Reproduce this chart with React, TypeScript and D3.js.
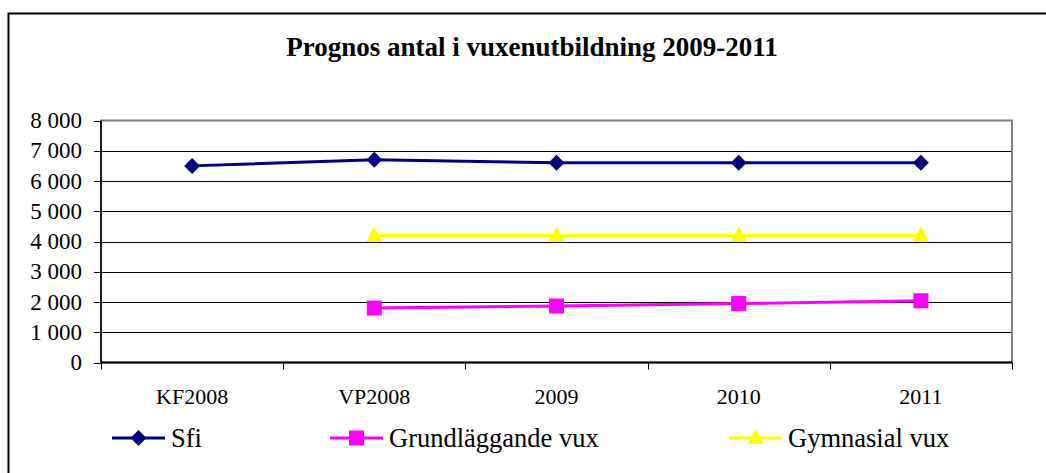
import { useEffect, useRef } from 'react'
import * as d3 from 'd3'

const categories = ['KF2008', 'VP2008', '2009', '2010', '2011']
const sfi = [6500, 6700, 6600, 6600, 6600]
const grundlaggande = [null, 1800, 1870, 1950, 2040]
const gymnasial = [null, 4200, 4200, 4200, 4200]
const yTicks = [0, 1000, 2000, 3000, 4000, 5000, 6000, 7000, 8000]

const series = [
  { name: 'Sfi', values: sfi, color: '#000080', marker: 'diamond', legendX: 112 },
  { name: 'Grundläggande vux', values: grundlaggande, color: '#FF00FF', marker: 'square', legendX: 330 },
  { name: 'Gymnasial vux', values: gymnasial, color: '#FFFF00', marker: 'triangle', legendX: 729 }
]

const W = 1046
const H = 473
const font = '"Liberation Serif", "Times New Roman", serif'

const drawMarker = (g, type, color, x, y) => {
  if (type === 'diamond') {
    g.append('path')
      .attr('d', `M${x},${y - 8}L${x + 8},${y}L${x},${y + 8}L${x - 8},${y}Z`)
      .attr('fill', color)
  } else if (type === 'square') {
    g.append('rect')
      .attr('x', x - 7.5).attr('y', y - 7.5)
      .attr('width', 15).attr('height', 15)
      .attr('fill', color)
  } else {
    g.append('path')
      .attr('d', `M${x},${y - 9}L${x + 8},${y + 6}L${x - 8},${y + 6}Z`)
      .attr('fill', color)
  }
}

const App = () => {
  const ref = useRef(null)

  useEffect(() => {
    const svg = d3.select(ref.current)
    svg.selectAll('*').remove()

    const left = 101
    const right = 1012
    const top = 120.5
    const bottom = 362.5

    const x = d3.scaleBand().domain(categories).range([left, right])
    const y = d3.scaleLinear().domain([0, 8000]).range([bottom, top])

    svg.append('rect').attr('width', W).attr('height', H).attr('fill', '#fff')

    // outer frame
    svg.append('path')
      .attr('d', `M8.5,${H + 2}V13.5H${W + 2}`)
      .attr('fill', 'none')
      .attr('stroke', '#000')
      .attr('stroke-width', 2)

    svg.append('text')
      .attr('x', 532)
      .attr('y', 56)
      .attr('text-anchor', 'middle')
      .attr('font-family', font)
      .attr('font-weight', 'bold')
      .attr('font-size', 27)
      .text('Prognos antal i vuxenutbildning 2009-2011')

    // gridlines
    svg.append('g')
      .selectAll('line')
      .data(yTicks.filter((d) => d > 0 && d < 8000))
      .enter()
      .append('line')
      .attr('x1', left).attr('x2', right)
      .attr('y1', (d) => Math.round(y(d)) + 0.5)
      .attr('y2', (d) => Math.round(y(d)) + 0.5)
      .attr('stroke', '#000')
      .attr('stroke-width', 1)

    // plot border
    svg.append('rect')
      .attr('x', left).attr('y', top)
      .attr('width', right - left).attr('height', bottom - top)
      .attr('fill', 'none')
      .attr('stroke', '#808080')
      .attr('stroke-width', 2)

    // y axis
    const yAxis = svg.append('g')
    yAxis.append('line')
      .attr('x1', left).attr('x2', left)
      .attr('y1', top).attr('y2', bottom)
      .attr('stroke', '#000').attr('stroke-width', 1.5)
    yAxis.selectAll('line.tick')
      .data(yTicks)
      .enter()
      .append('line')
      .attr('class', 'tick')
      .attr('x1', left - 7).attr('x2', left)
      .attr('y1', (d) => Math.round(y(d)) + 0.5)
      .attr('y2', (d) => Math.round(y(d)) + 0.5)
      .attr('stroke', '#000')
    yAxis.selectAll('text')
      .data(yTicks)
      .enter()
      .append('text')
      .attr('x', 82)
      .attr('y', (d) => y(d) + 7.5)
      .attr('text-anchor', 'end')
      .attr('font-family', font)
      .attr('font-size', 23)
      .text((d) => d3.format(',')(d).replace(/,/g, ' '))

    // x axis
    const xAxis = svg.append('g')
    xAxis.append('line')
      .attr('x1', left).attr('x2', right)
      .attr('y1', bottom).attr('y2', bottom)
      .attr('stroke', '#000').attr('stroke-width', 2)
    const bounds = categories.map((c) => x(c)).concat([right])
    xAxis.selectAll('line.tick')
      .data(bounds)
      .enter()
      .append('line')
      .attr('class', 'tick')
      .attr('x1', (d) => Math.round(d) + 0.5).attr('x2', (d) => Math.round(d) + 0.5)
      .attr('y1', bottom).attr('y2', bottom + 7)
      .attr('stroke', '#000')
    xAxis.selectAll('text')
      .data(categories)
      .enter()
      .append('text')
      .attr('x', (d) => x(d) + x.bandwidth() / 2)
      .attr('y', 404)
      .attr('text-anchor', 'middle')
      .attr('font-family', font)
      .attr('font-size', 22)
      .text((d) => d)

    const cx = (i) => x(categories[i]) + x.bandwidth() / 2

    // lines and markers
    series.forEach((s) => {
      const pts = s.values
        .map((v, i) => ({ v, i }))
        .filter((p) => p.v !== null)
      const line = d3.line()
        .x((p) => cx(p.i))
        .y((p) => y(p.v))
      svg.append('path')
        .attr('d', line(pts))
        .attr('fill', 'none')
        .attr('stroke', s.color)
        .attr('stroke-width', 3)
      const g = svg.append('g')
      pts.forEach((p) => drawMarker(g, s.marker, s.color, cx(p.i), y(p.v)))
    })

    // legend
    const ly = 438
    series.forEach((s) => {
      const g = svg.append('g')
      g.append('line')
        .attr('x1', s.legendX).attr('x2', s.legendX + 53)
        .attr('y1', ly).attr('y2', ly)
        .attr('stroke', s.color)
        .attr('stroke-width', 3)
      drawMarker(g, s.marker, s.color, s.legendX + 26.5, ly)
      g.append('text')
        .attr('x', s.legendX + 59)
        .attr('y', ly + 9)
        .attr('font-family', font)
        .attr('font-size', 26.5)
        .text(s.name)
    })
  }, [])

  return (
    <svg
      ref={ref}
      width={W}
      height={H}
      style={{ position: 'absolute', left: 0, top: 0, display: 'block' }}
    />
  )
}

export default App
